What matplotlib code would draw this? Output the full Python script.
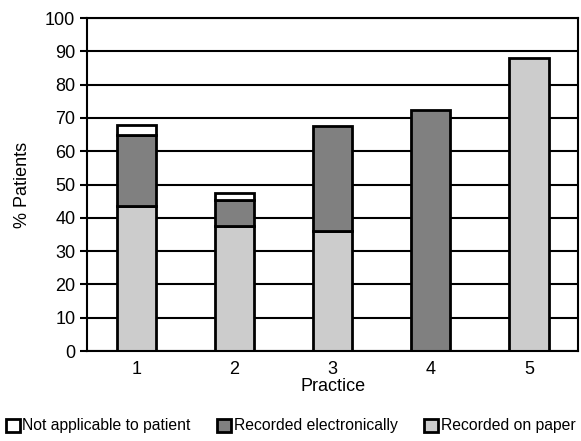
import matplotlib.pyplot as plt
import numpy as np

plt.rcParams['font.family'] = ['Liberation Sans', 'DejaVu Sans']

practices = ['1', '2', '3', '4', '5']
paper = [43.5, 37.5, 36, 0, 88]
electronic = [21.5, 8, 31.5, 72.5, 0]
not_applicable = [3, 2, 0, 0, 0]

fig = plt.figure(figsize=(5.81, 4.41), dpi=100)
ax = fig.add_axes([0.150, 0.204, 0.845, 0.755])

x = np.arange(len(practices))
w = 0.4
ax.set_axisbelow(True)
ax.yaxis.grid(True, color='black', linewidth=1.5)

p = np.array(paper)
e = np.array(electronic)
n = np.array(not_applicable)
m = p > 0
ax.bar(x[m], p[m], w, color='#cccccc', edgecolor='black', linewidth=2, label='Recorded on paper')
m = e > 0
ax.bar(x[m], e[m], w, bottom=p[m], color='#808080', edgecolor='black', linewidth=2, label='Recorded electronically')
m = n > 0
ax.bar(x[m], n[m], w, bottom=(p + e)[m], color='white', edgecolor='black', linewidth=2, label='Not applicable to patient')

ax.set_xlim(-0.5, 4.5)
ax.set_ylim(0, 100)
ax.set_yticks(range(0, 101, 10))
ax.set_xticks(x)
ax.set_xticklabels(practices)
ax.tick_params(axis='x', length=0, labelsize=13, pad=7)
ax.tick_params(axis='y', length=5, width=1.5, labelsize=13)
for s in ax.spines.values():
    s.set_linewidth(1.5)
ax.set_xlabel('Practice', fontsize=13, labelpad=0)
ax.set_ylabel('% Patients', fontsize=13, labelpad=10)

handles, labels = ax.get_legend_handles_labels()
order = [2, 1, 0]
fig.legend([handles[i] for i in order], [labels[i] for i in order],
           loc='lower center', bbox_to_anchor=(0.5, -0.015), ncol=3, frameon=False,
           fontsize=11.3, handlelength=0.9, handleheight=0.9, handletextpad=0.15,
           columnspacing=1.7)

fig.savefig('out.png', dpi=100)
